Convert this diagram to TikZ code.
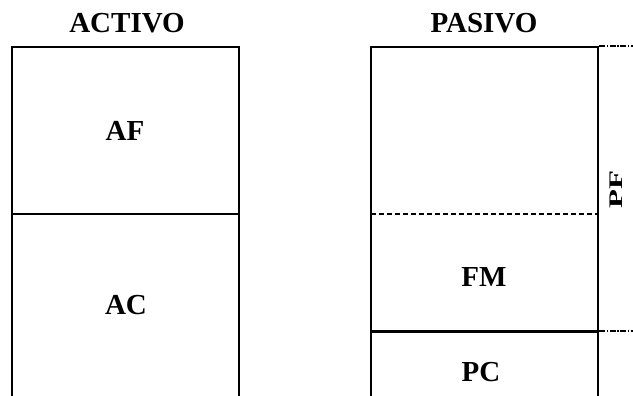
\documentclass[tikz,border=0pt]{standalone}
\usepackage{fontspec}
\setmainfont{Liberation Serif}
\begin{document}
\begin{tikzpicture}[x=1pt,y=-1pt,
  frame/.style={line width=2.4pt,line cap=rect},
  dashline/.style={line width=1.6pt,dash pattern=on 5pt off 3pt},
  tick/.style={line width=1.4pt,dash pattern=on 6pt off 1.5pt on 1.5pt off 1.5pt},
  lbl/.style={font=\fontsize{29}{32}\selectfont\bfseries,inner sep=0pt}]
\useasboundingbox (0,0) rectangle (633,396);
% left column
\draw[frame] (12,396) -- (12,47) -- (239,47) -- (239,396);
\draw[frame] (12,214) -- (239,214);
% right column
\draw[frame] (371,396) -- (371,47) -- (598,47) -- (598,396);
\draw[dashline] (371,214) -- (597,214);
\draw[frame] (371,331.5) -- (598,331.5);
\draw[tick] (599,46) -- (633,46);
\draw[tick] (599,331) -- (633,331);
% labels
\node[lbl] (activo) at (127,23) {ACTIVO};
\node[lbl] (pasivo) at (484,23) {PASIVO};
\node[lbl] (af) at (125,131) {AF};
\node[lbl] (ac) at (126,305) {AC};
\node[lbl] (fm) at (484,277) {FM};
\node[lbl] (pc) at (481,372) {PC};
\node[inner sep=0pt,rotate=90,font=\fontsize{31}{31}\selectfont\bfseries] (pf) at (616,190) {\scalebox{1}[0.62]{PF}};
\end{tikzpicture}
\end{document}
